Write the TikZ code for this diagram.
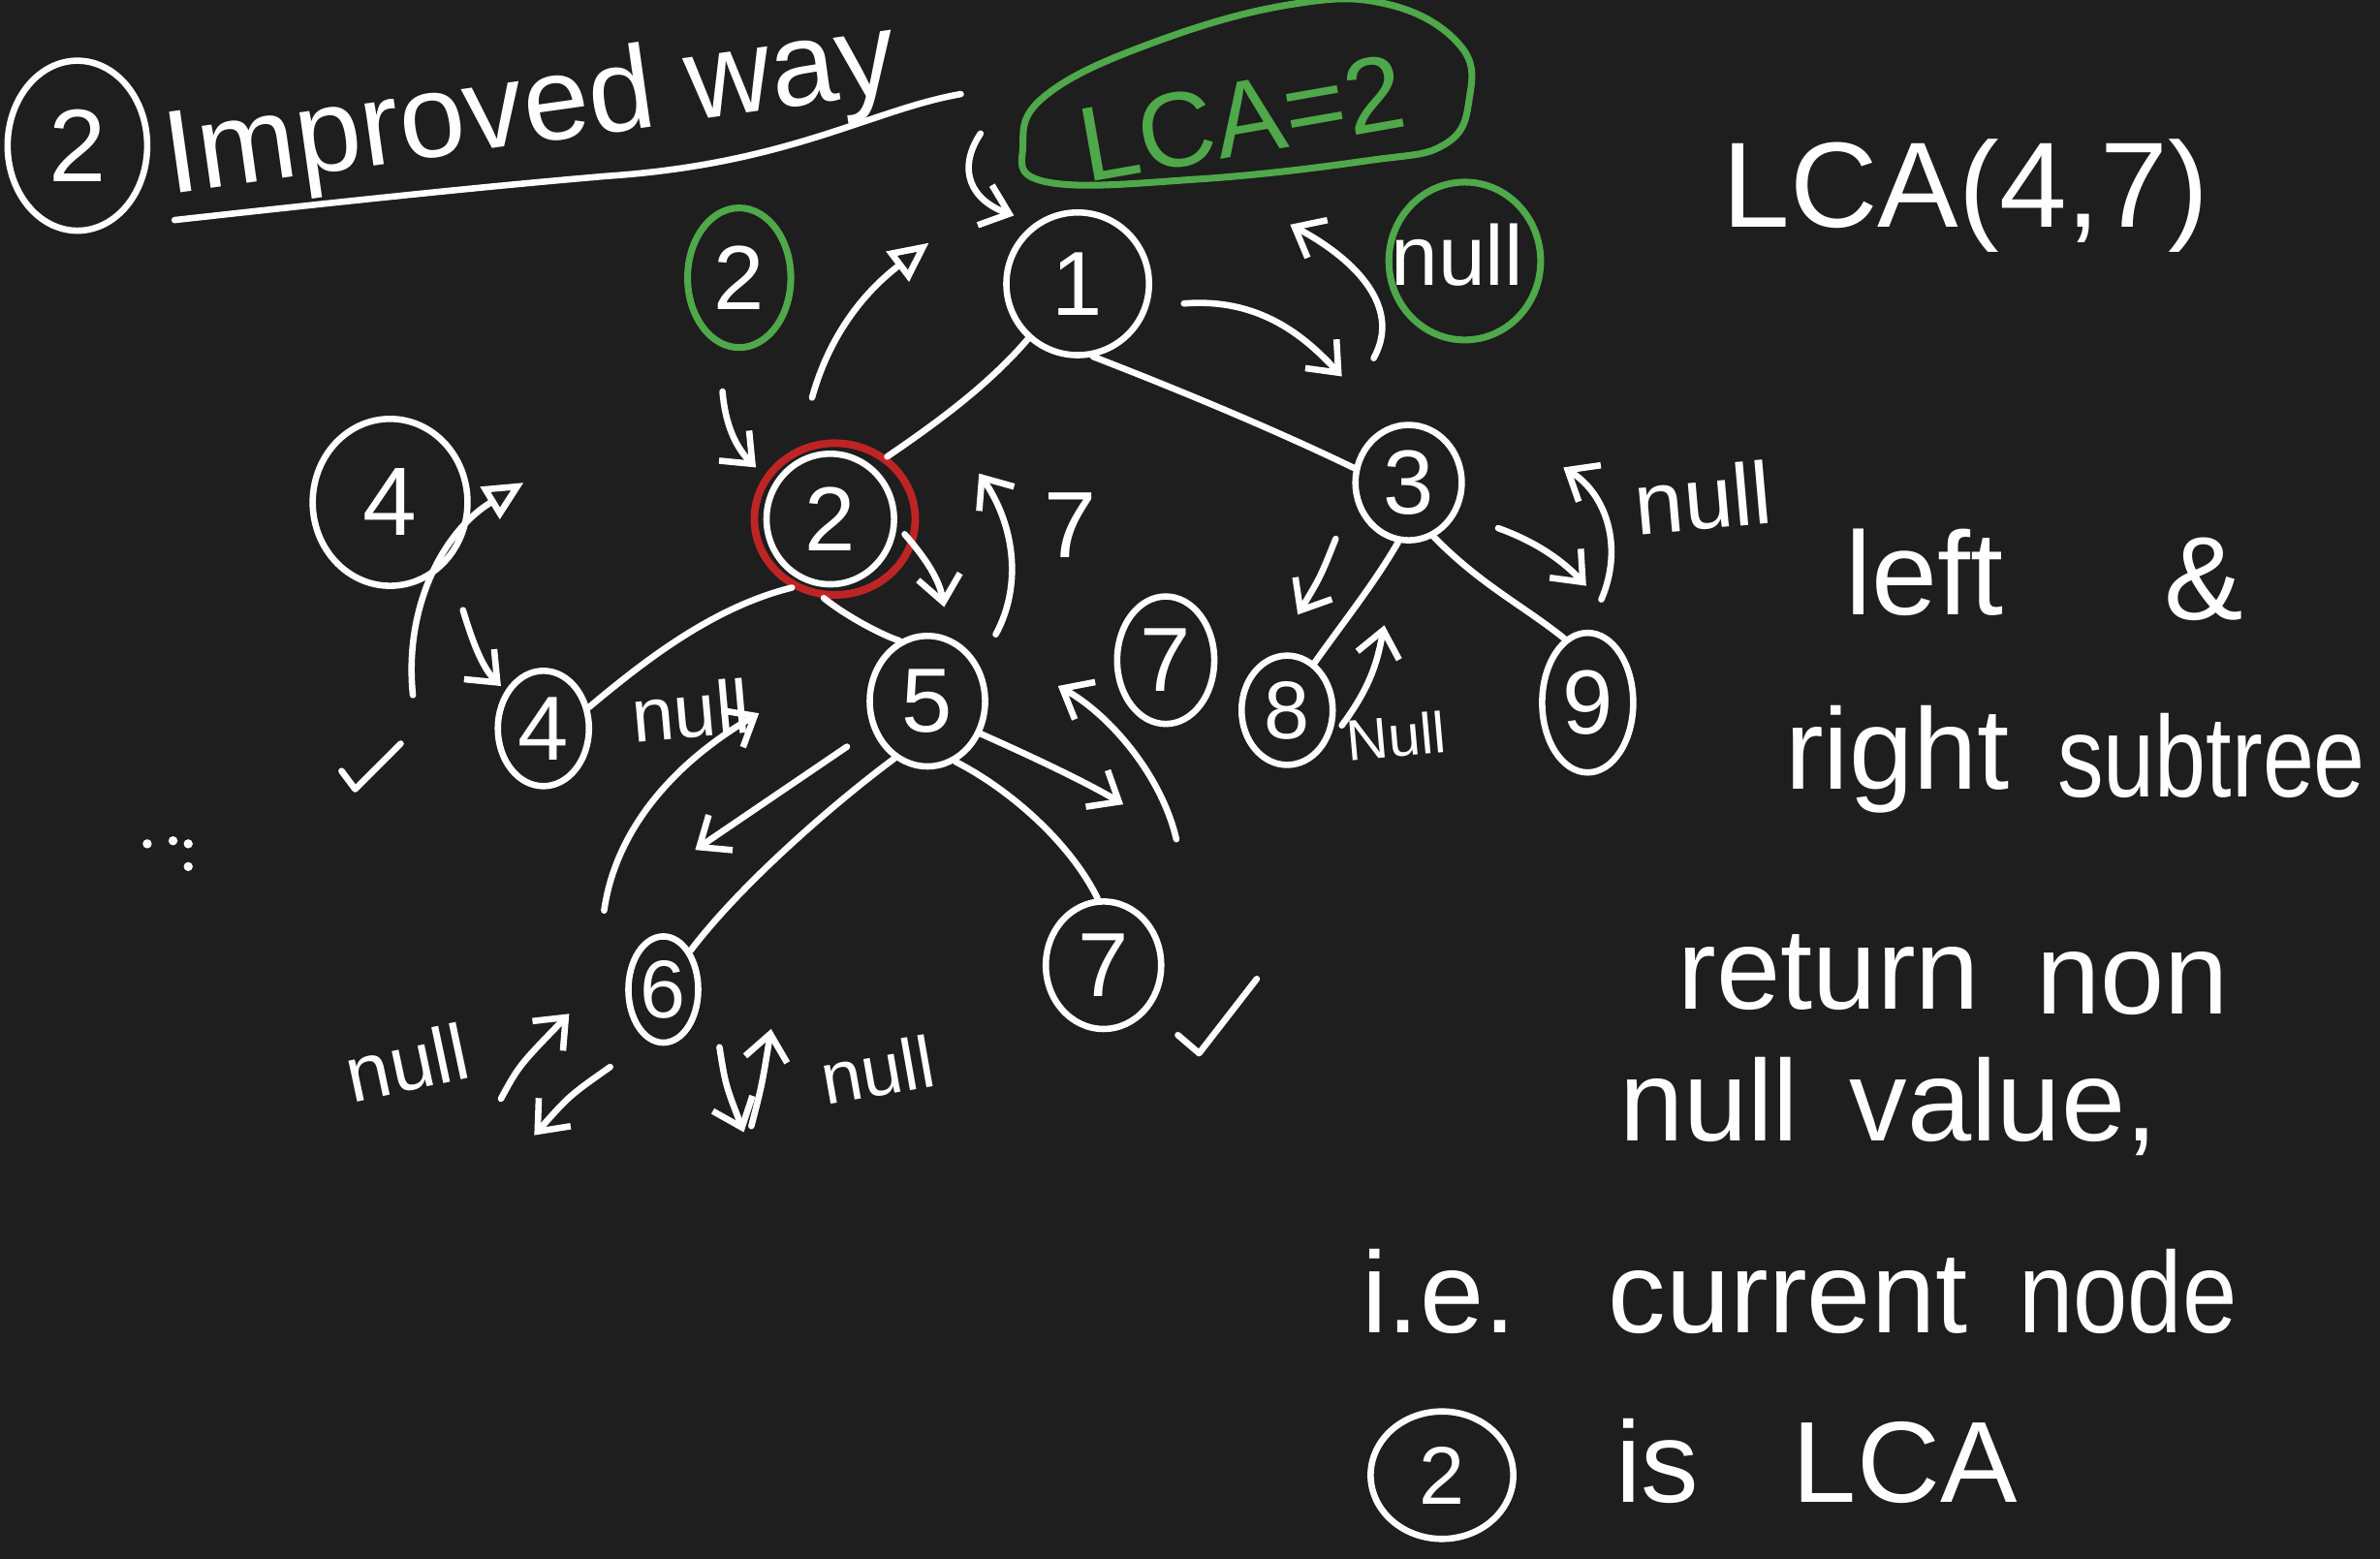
\documentclass[tikz,border=0pt]{standalone}
\usepackage{fontspec}
\setmainfont{Liberation Sans}
\usetikzlibrary{shapes.geometric,arrows.meta}
\definecolor{bg}{HTML}{1E1E1E}
\definecolor{hgreen}{HTML}{4FA84A}
\definecolor{hred}{HTML}{BF2424}
\newcommand\hsz[1]{\fontsize{#1}{#1}\selectfont}
\tikzset{
  ink/.style={white, line width=4.2pt, line cap=round, line join=round},
  tn/.style={ellipse, draw=white, line width=4.2pt, inner sep=0pt, text=white, font=\hsz{60}},
  lbl/.style={text=white, inner sep=0pt},
  barb/.style={-{Straight Barb[length=17pt,width=28pt]}},
  tri/.style={-{Triangle[open,length=26pt,width=24pt]}},
}
\begin{document}
\begin{tikzpicture}[x=1pt,y=-1pt]
\fill[bg] (0,0) rectangle (1568,1027);
\useasboundingbox (0,0) rectangle (1568,1027);

% ---------- title ----------
\node[tn, minimum width=92pt, minimum height=112pt, font=\hsz{68}] (t2) at (51,96) {2};
\node[lbl, font=\hsz{78}, rotate=8, anchor=base west] (title) at (112,128) {Improved way};
\draw[ink] (115,145) .. controls (250,130) and (330,122) .. (400,116)
  .. controls (520,108) and (575,72) .. (633,62);

% ---------- LCA = 2 blob ----------
\draw[hgreen, line width=4.5pt] plot[smooth cycle, tension=0.7] coordinates
  {(690,120) (674,95) (690,62) (760,28) (850,3) (915,3) (962,30) (968,65) (952,95) (900,106) (790,118)};
\node[text=hgreen, inner sep=0pt, font=\hsz{70}, rotate=10] (lca2) at (818,78) {LCA=2};

% ---------- tree nodes ----------
\node[tn, minimum width=94pt, minimum height=94pt] (n1) at (710,187) {1};
\node[tn, minimum width=84pt, minimum height=86pt] (n2) at (547,342) {2};
\node[ellipse, draw=hred, line width=5pt, minimum width=106pt, minimum height=100pt] (r2) at (550,342) {};
\node[tn, minimum width=70pt, minimum height=76pt] (n3) at (928,318) {3};
\node[tn, minimum width=60pt, minimum height=76pt] (n4) at (358,480) {4};
\node[tn, minimum width=76pt, minimum height=86pt] (n5) at (611,462) {5};
\node[tn, minimum width=46pt, minimum height=70pt, font=\hsz{54}] (n6) at (437,652) {6};
\node[tn, minimum width=76pt, minimum height=84pt] (n7) at (727,636) {7};
\node[tn, minimum width=60pt, minimum height=72pt, font=\hsz{54}] (n8) at (848,468) {8};
\node[tn, minimum width=60pt, minimum height=92pt] (n9) at (1046,463) {9};

% returned values
\node[tn, minimum width=102pt, minimum height=110pt, font=\hsz{64}] (ret4) at (257,331) {4};
\node[tn, minimum width=64pt, minimum height=84pt] (ret7) at (768,435) {7};
\node[ellipse, draw=hgreen, line width=4.5pt, minimum width=68pt, minimum height=92pt, inner sep=0pt, text=white, font=\hsz{60}] (g2) at (487,183) {2};
\node[ellipse, draw=hgreen, line width=4.5pt, minimum width=100pt, minimum height=104pt, inner sep=0pt] (gnull) at (965,172) {};
\node[lbl, font=\hsz{56}] (nullA) at (960,168) {null};

% ---------- tree edges ----------
\draw[ink] (n1.228) .. controls (650,255) and (615,280) .. (r2.50);
\draw[ink] (n1.-78) .. controls (790,262) and (850,288) .. (n3.165);
\draw[ink] (r2.238) .. controls (470,400) and (425,435) .. (n4.25);
\draw[ink] (r2.262) .. controls (560,408) and (585,420) .. (n5.115);
\draw[ink] (n5.240) .. controls (555,525) and (490,580) .. (n6.55);
\draw[ink] (n5.-65) .. controls (665,520) and (705,555) .. (n7.95);
\draw[ink] (n3.-100) .. controls (905,385) and (885,410) .. (n8.60);
\draw[ink] (n3.-65) .. controls (975,385) and (1005,400) .. (n9.110);

% ---------- traversal arrows ----------
\draw[ink, barb] (646,88) .. controls (630,112) and (640,132) .. (668,142);
\draw[ink, tri] (535,262) .. controls (548,215) and (575,188) .. (612,160);
\draw[ink, barb] (476,258) .. controls (478,282) and (486,296) .. (498,308);
\draw[ink, barb] (780,200) .. controls (830,196) and (860,222) .. (884,248);
\draw[ink, barb] (905,236) .. controls (925,200) and (888,168) .. (850,148);
\draw[ink, barb] (596,352) .. controls (610,368) and (619,382) .. (622,400);
\draw[ink, barb] (656,418) .. controls (674,385) and (668,345) .. (645,312);
\node[lbl, font=\hsz{62}] (l7) at (705,346) {7};
\draw[ink, barb] (305,402) .. controls (312,425) and (318,440) .. (330,452);
\draw[ink, tri] (272,458) .. controls (266,400) and (292,350) .. (345,318);
\draw[ink] (225,508) -- (234,520) -- (264,490);
\fill[white] (97,556) circle (3pt) (114,554) circle (3pt) (124,556) circle (3pt) (124,571) circle (3pt);
\node[lbl, font=\hsz{50}, rotate=5] (null4) at (455,468) {null};
\draw[ink, barb] (398,600) .. controls (405,550) and (440,505) .. (500,470);
\draw[ink, barb] (558,492) -- (458,560);
\draw[ink, barb] (645,483) .. controls (690,503) and (720,518) .. (740,530);
\draw[ink, barb] (775,553) .. controls (765,510) and (730,470) .. (697,452);
\draw[ink] (776,682) -- (790,694) -- (828,645);
\node[lbl, font=\hsz{52}, rotate=12] (null6a) at (268,700) {null};
\draw[ink, barb] (330,724) .. controls (342,702) .. (375,668);
\draw[ink, barb] (402,703) .. controls (375,722) .. (352,748);
\draw[ink, barb] (474,690) .. controls (478,715) .. (490,746);
\draw[ink, barb] (495,742) .. controls (502,715) .. (508,678);
\node[lbl, font=\hsz{48}, rotate=10] (null6b) at (578,705) {null};
\draw[ink, barb] (880,355) .. controls (870,380) .. (855,405);
\draw[ink, barb] (884,478) .. controls (905,450) and (908,432) .. (912,412);
\node[lbl, font=\hsz{38}, rotate=5] (null8) at (920,485) {Null};
\draw[ink, barb] (987,348) .. controls (1015,358) and (1032,372) .. (1045,386);
\draw[ink, barb] (1055,395) .. controls (1070,360) and (1058,325) .. (1030,308);
\node[lbl, font=\hsz{58}, rotate=5] (null9) at (1122,328) {null};

% ---------- right side notes ----------
\node[lbl, font=\hsz{80}, anchor=base] (q) at (1295,150) {LCA(4,7)};
\node[lbl, font=\hsz{78}, anchor=base] (w1) at (1268,405) {left};
\node[lbl, font=\hsz{78}, anchor=base] (w2) at (1452,408) {\&};
\node[lbl, font=\hsz{76}, anchor=base] (w3) at (1250,520) {right};
\node[lbl, font=\hsz{76}, anchor=base, xscale=0.8] (w4) at (1457,525) {subtree};
\node[lbl, font=\hsz{76}, anchor=base] (w5) at (1205,665) {return};
\node[lbl, font=\hsz{76}, anchor=base] (w6) at (1405,668) {non};
\node[lbl, font=\hsz{76}, anchor=base] (w7) at (1126,752) {null};
\node[lbl, font=\hsz{76}, anchor=base] (w8) at (1320,752) {value,};
\node[lbl, font=\hsz{76}, anchor=base] (w9) at (948,878) {i.e.};
\node[lbl, font=\hsz{76}, anchor=base] (w10) at (1178,878) {current};
\node[lbl, font=\hsz{76}, anchor=base, xscale=0.85] (w11) at (1402,878) {node};
\node[tn, minimum width=94pt, minimum height=84pt, font=\hsz{54}] (c2) at (950,972) {2};
\node[lbl, font=\hsz{76}, anchor=base] (w12) at (1092,990) {is};
\node[lbl, font=\hsz{76}, anchor=base] (w13) at (1255,990) {LCA};
\end{tikzpicture}
\end{document}
